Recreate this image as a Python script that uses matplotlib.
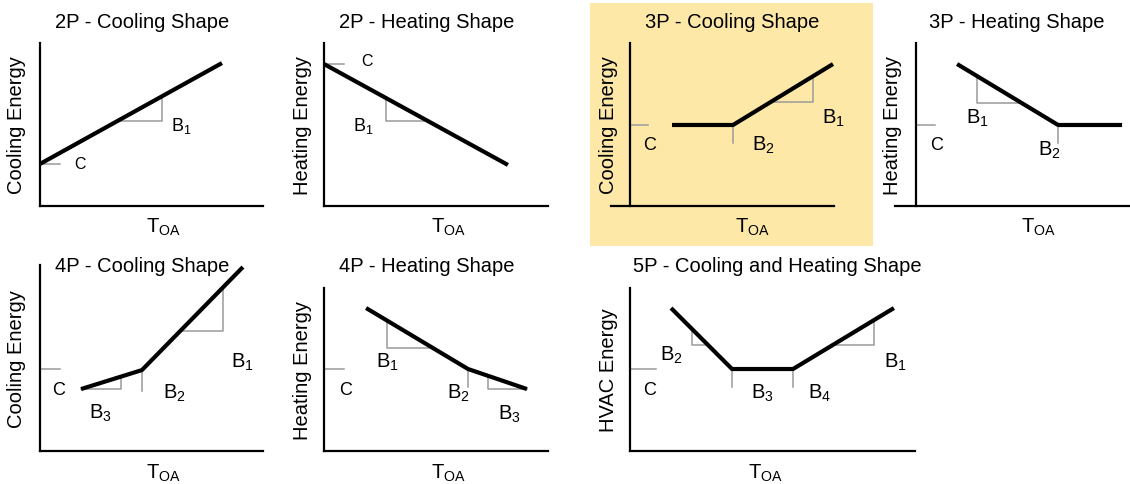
import numpy as np
import matplotlib
matplotlib.use("Agg")
import matplotlib.pyplot as plt
from matplotlib.patches import Rectangle

plt.rcParams['font.family'] = ['Liberation Sans', 'DejaVu Sans']
plt.rcParams['mathtext.default'] = 'regular'

W, H = 1130, 485

# panel titles and y labels
titles = ["2P - Cooling Shape", "2P - Heating Shape", "3P - Cooling Shape", "3P - Heating Shape",
          "4P - Cooling Shape", "4P - Heating Shape", "5P - Cooling and Heating Shape"]
ylabels = ["Cooling Energy", "Heating Energy", "Cooling Energy", "Heating Energy",
           "Cooling Energy", "Heating Energy", "HVAC Energy"]

# change-point model lines (0-10 units along TOA / energy)
line_x = [[0, 8.16], [0, 8.21], [2.06, 5.05, 9.95], [1.92, 6.64, 9.63],
          [1.84, 4.57, 9.10], [1.88, 6.43, 9.06], [1.44, 3.58, 5.72, 9.26]]
line_y = [[2.58, 8.77], [8.71, 2.52], [4.97, 4.97, 8.71], [8.71, 4.97, 4.97],
          [3.33, 4.35, 9.89], [8.77, 5.03, 3.80], [8.77, 5.03, 5.03, 8.77]]

# intercept level C
c_level = [2.58, 8.71, 4.97, 4.97, 4.41, 5.03, 5.03]

# change points (x) with labels
breaks = [[], [], [(5.05, "B$_2$")], [(6.64, "B$_2$")], [(4.57, "B$_2$")],
          [(6.43, "B$_2$")], [(3.58, "B$_3$"), (5.72, "B$_4$")]]

# slope triangles: (x start, x end, label)
slopes = [[(3.45, 5.47, "B$_1$")], [(2.77, 4.64, "B$_1$")], [(6.86, 8.97, "B$_1$")],
          [(2.85, 4.95, "B$_1$")], [(1.84, 3.63, "B$_3$"), (6.28, 8.21, "B$_1$")],
          [(2.81, 4.87, "B$_1$"), (7.32, 9.06, "B$_3$")],
          [(2.18, 2.74, "B$_2$"), (7.12, 8.56, "B$_1$")]]

# layout: axis box in pixels (left, right, top, bottom), x-axis left overhang
boxes = [(40, 263, 44, 207), (324, 548, 44, 207), (630, 834, 44, 207), (916, 1130, 44, 207),
         (40, 263, 266, 452), (324, 548, 289, 452), (630, 915, 289, 452)]
overhang = [0, 0, 19, 21, 0, 0, 0]
title_xy = [(142, 22), (427, 22), (732, 22), (1017, 22), (142, 266), (427, 266), (777, 266)]
ylab_x = [17, 303, 608, 892, 17, 303, 608]
xlab_xy = [(163, 227), (448, 227), (752, 227), (1038, 227), (163, 473), (448, 473), (765, 473)]
lab_size = [13, 13, 14.5, 14.5, 14.5, 14.5, 14.5]

# label positions (x, y) in units for C label, break labels and slope labels
c_lab = [(1.8, 2.58), (1.9, 8.9), (0.98, 3.80), (0.98, 3.80), (0.85, 3.33), (0.95, 3.80), (0.7, 3.80)]
brk_lab = [[], [], [(5.98, 3.80)], [(5.70, 3.50)], [(5.5, 3.17)], [(5.49, 3.62)],
           [(4.25, 3.62), (6.25, 3.62)]]
slp_lab = [[(6.35, 4.97)], [(1.74, 4.97)], [(9.95, 5.46)], [(2.85, 5.46)],
           [(2.7, 2.1), (9.1, 4.84)], [(2.81, 5.52), (8.26, 2.33)],
           [(1.44, 5.95), (9.30, 5.52)]]

fig = plt.figure(figsize=(W / 100, H / 100), dpi=100)
fig.patches.append(Rectangle((590 / W, 1 - 247 / H), 283 / W, 243 / H,
                             transform=fig.transFigure, facecolor='#fde8a8',
                             edgecolor='none', zorder=-5))

gray = '#9a9a9a'
for i in range(7):
    l, r, t, b = boxes[i]
    ov = overhang[i]
    ax = fig.add_axes([(l - ov) / W, 1 - b / H, (r - l + ov) / W, (b - t) / H])
    ax.set_zorder(1)
    ax.set_xlim(-ov / (r - l) * 10, 10)
    ax.set_ylim(0, 10)
    ax.patch.set_alpha(0)
    for s in ['top', 'right']:
        ax.spines[s].set_visible(False)
    ax.spines['left'].set_position(('data', 0))
    ax.spines['left'].set_linewidth(1.6)
    ax.spines['bottom'].set_linewidth(1.6)
    ax.set_xticks([])
    ax.set_yticks([])

    xs, ys = np.array(line_x[i]), np.array(line_y[i])
    ax.plot(xs, ys, color='black', lw=3, solid_capstyle='butt', zorder=3)

    fs = lab_size[i]
    # intercept tick and label
    ax.plot([0, 0.9], [c_level[i], c_level[i]], color=gray, lw=1.1, zorder=2)
    ax.text(c_lab[i][0], c_lab[i][1], "C", fontsize=fs - 1.5, ha='center', va='center')

    # change points
    for (bx, lab), (tx, ty) in zip(breaks[i], brk_lab[i]):
        by = np.interp(bx, xs, ys)
        ax.plot([bx, bx], [by, by - 1.1], color=gray, lw=1.1, zorder=2)
        ax.text(tx, ty, lab, fontsize=fs, ha='left', va='center')

    # slope triangles
    for (x0, x1, lab), (tx, ty) in zip(slopes[i], slp_lab[i]):
        y0, y1 = np.interp(x0, xs, ys), np.interp(x1, xs, ys)
        if y1 > y0:
            ax.plot([x0, x1, x1], [y0, y0, y1], color=gray, lw=1.1, zorder=2)
        else:
            ax.plot([x0, x0, x1], [y0, y1, y1], color=gray, lw=1.1, zorder=2)
        ax.text(tx, ty, lab, fontsize=fs, ha='center', va='center')

    fig.text(title_xy[i][0] / W, 1 - title_xy[i][1] / H, titles[i], fontsize=14.5,
             ha='center', va='center')
    fig.text(ylab_x[i] / W, 1 - (t + b) / 2 / H, ylabels[i], fontsize=14.5,
             rotation=90, ha='center', va='center')
    fig.text(xlab_xy[i][0] / W, 1 - xlab_xy[i][1] / H, "T$_{OA}$", fontsize=14.5,
             ha='center', va='center')

fig.savefig("out.png", dpi=100)
